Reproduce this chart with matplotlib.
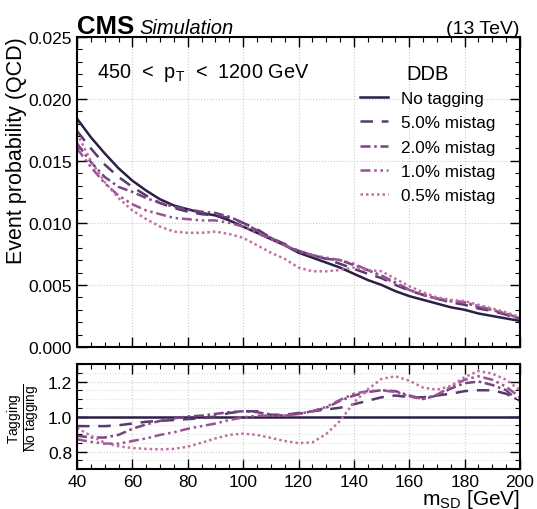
import matplotlib
matplotlib.use("Agg")
import matplotlib.pyplot as plt
from matplotlib.ticker import MultipleLocator, FormatStrFormatter

plt.rcParams['font.family'] = ['Liberation Sans', 'DejaVu Sans']
plt.rcParams['mathtext.fontset'] = 'custom'
plt.rcParams['mathtext.rm'] = 'Liberation Sans'
plt.rcParams['mathtext.it'] = 'Liberation Sans:italic'
plt.rcParams['mathtext.bf'] = 'Liberation Sans:bold'

# soft-drop mass grid (GeV)
msd = [40, 45, 50, 55, 60, 65, 70, 75, 80, 85, 90, 95, 100, 105, 110, 115, 120,
       125, 130, 135, 140, 145, 150, 155, 160, 165, 170, 175, 180, 185, 190, 195, 200]

# event probability (QCD), upper panel
p_notag = [.0184, .0169, .0156, .0144, .0134, .0126, .0119, .0114, .0111, .0108, .0106,
           .0102, .0097, .0092, .0087, .0082, .0076, .0072, .0068, .0064, .0059, .0054,
           .0050, .0045, .0041, .0038, .0035, .0032, .0030, .0027, .0025, .0023, .0021]
p_5 = [.0174, .0160, .0147, .0137, .0129, .0122, .0116, .0112, .0109, .0107, .0106,
       .0104, .0100, .0095, .0088, .0083, .00775, .0074, .0071, .0067, .0063, .0059,
       .00555, .0050, .00455, .0042, .0039, .0036, .0034, .0031, .0029, .0026, .0023]
p_2 = [.0164, .0149, .0137, .0129, .0125, .0120, .0116, .0113, .0111, .0109, .0108,
       .0105, .0100, .0094, .0088, .0082, .0077, .0074, .0071, .0070, .0066, .0062,
       .00575, .0052, .0046, .0042, .0039, .0037, .0036, .0032, .0030, .0026, .0023]
p_1 = [.0160, .0145, .0132, .0122, .0115, .0110, .0107, .0104, .0103, .0102, .0102,
       .0100, .0097, .0092, .0087, .0082, .0077, .0074, .0072, .0070, .0067, .0062,
       .0057, .0051, .0046, .0042, .0039, .0037, .0036, .0033, .0030, .0027, .0023]
p_05 = [.0172, .0150, .0133, .0120, .0110, .0103, .0097, .0093, .0092, .0092, .0093,
        .0091, .0088, .0082, .0076, .0071, .0064, .0061, .0061, .0062, .0064, .0062,
        .0061, .0055, .0049, .0044, .0040, .0038, .0037, .0034, .0031, .0028, .0024]

# tagging / no tagging, lower panel
r_notag = [1.0] * len(msd)
r_5 = [.945, .945, .945, .95, .96, .97, .975, .98, .985, .99, 1.0, 1.02, 1.03, 1.03,
       1.01, 1.01, 1.02, 1.03, 1.04, 1.05, 1.07, 1.09, 1.11, 1.12, 1.11, 1.11, 1.12,
       1.13, 1.145, 1.15, 1.15, 1.13, 1.09]
r_2 = [.89, .88, .88, .895, .93, .955, .975, .99, 1.0, 1.005, 1.015, 1.025, 1.03, 1.025,
       1.01, 1.005, 1.015, 1.03, 1.05, 1.09, 1.12, 1.14, 1.15, 1.145, 1.12, 1.10, 1.12,
       1.16, 1.19, 1.20, 1.18, 1.15, 1.08]
r_1 = [.87, .855, .845, .845, .86, .875, .895, .91, .93, .945, .96, .98, .995, 1.005,
       1.005, 1.005, 1.015, 1.03, 1.055, 1.095, 1.13, 1.145, 1.15, 1.14, 1.115, 1.10,
       1.125, 1.17, 1.21, 1.23, 1.21, 1.17, 1.11]
r_05 = [.935, .89, .85, .83, .82, .815, .812, .815, .828, .85, .875, .895, .902, .895,
        .878, .86, .848, .852, .90, .975, 1.08, 1.155, 1.215, 1.23, 1.205, 1.165, 1.153,
        1.175, 1.225, 1.26, 1.245, 1.21, 1.15]

labels = ['No tagging', '5.0% mistag', '2.0% mistag', '1.0% mistag', '0.5% mistag']
colors = ['#2c1f45', '#593a6d', '#784480', '#985494', '#c46fa5']
styles = ['-', (0, (5, 3.5)), (0, (4, 1.5, 1, 1.5)), (0, (4, 1.5, 1, 1.5, 1, 1.5)), (0, (1, 1.2))]

fig = plt.figure(figsize=(5.37, 5.10), dpi=100)
ax = fig.add_axes([0.1434, 0.3176, 0.8250, 0.6085])
rax = fig.add_axes([0.1434, 0.0784, 0.8250, 0.2059])

for ys, rs, lab, c, ls in zip([p_notag, p_5, p_2, p_1, p_05], [r_notag, r_5, r_2, r_1, r_05],
                              labels, colors, styles):
    ax.plot(msd, ys, color=c, ls=ls, lw=1.8, label=lab)
    rax.plot(msd, rs, color=c, ls=ls, lw=1.8)

for a in (ax, rax):
    a.set_xlim(40, 200)
    a.xaxis.set_major_locator(MultipleLocator(20))
    a.xaxis.set_minor_locator(MultipleLocator(5))
    a.tick_params(which='both', direction='in', top=True, right=True, labelsize=12.5)
    a.tick_params(which='major', length=7, width=1)
    a.tick_params(which='minor', length=3.5, width=0.8)
    for s in a.spines.values():
        s.set_linewidth(1.5)
    a.grid(True, which='major', color='#cccccc', ls=':', lw=0.8)

ax.set_ylim(0, 0.025)
ax.yaxis.set_major_locator(MultipleLocator(0.005))
ax.yaxis.set_minor_locator(MultipleLocator(0.001))
ax.yaxis.set_major_formatter(FormatStrFormatter('%.3f'))
ax.tick_params(labelbottom=False)
ax.set_ylabel('Event probability (QCD)', fontsize=15.5, loc='top', labelpad=1)

rax.set_ylim(0.7, 1.3)
rax.yaxis.set_major_locator(MultipleLocator(0.2))
rax.yaxis.set_minor_locator(MultipleLocator(0.05))
rax.yaxis.set_major_formatter(FormatStrFormatter('%.1f'))
rax.grid(True, which='minor', axis='y', color='#dddddd', ls=':', lw=0.8)
rax.set_ylabel(r'$\frac{\mathrm{Tagging}}{\mathrm{No\ tagging}}$', fontsize=14, labelpad=3)
rax.set_xlabel(r'm$_\mathregular{SD}$ [GeV]', fontsize=15, loc='right', labelpad=-1)

leg = ax.legend(title='DDB', loc='upper left', bbox_to_anchor=(0.605, 0.962), frameon=False,
                fontsize=12.3, title_fontsize=14.5, handlelength=1.6, handletextpad=0.75,
                labelspacing=0.54)
leg._legend_box.sep = 6

ax.text(0.045, 0.885, r'450  <  p$_\mathregular{T}$  <  1200 GeV', transform=ax.transAxes,
        fontsize=14.3, va='center')

fig.text(0.1434, 0.933, 'CMS', fontsize=18.5, fontweight='bold', va='baseline')
fig.text(0.26, 0.933, 'Simulation', fontsize=14.5, style='italic', va='baseline')
fig.text(0.968, 0.933, '(13 TeV)', fontsize=14, ha='right', va='baseline')

fig.savefig('out.png', dpi=100)
